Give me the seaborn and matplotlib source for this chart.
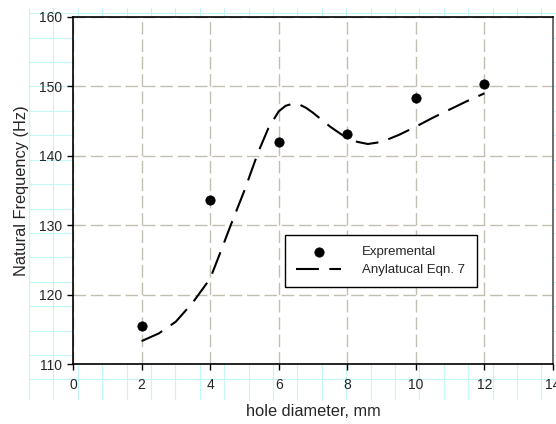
import numpy as np
import matplotlib
matplotlib.use("Agg")
import matplotlib.pyplot as plt
import seaborn as sns

# measured points
hole_d = [2, 4, 6, 8, 10, 12]
freq_exp = [115.5, 133.6, 142.0, 143.2, 148.4, 150.3]

# analytical curve
curve_d = [2.0, 2.5, 3.0, 3.5, 4.0, 4.3, 4.6, 4.8, 5.0, 5.4, 5.7, 6.0, 6.2, 6.4,
           6.6, 6.8, 7.0, 7.5, 8.0, 8.3, 8.6, 9.0, 9.5, 10.0, 10.5, 11.0, 11.5, 12.0]
curve_f = [113.3, 114.4, 116.1, 118.9, 122.3, 126.1, 130.0, 132.5, 135.0, 140.5, 144.0,
           146.4, 147.2, 147.5, 147.4, 146.9, 146.2, 144.2, 142.5, 142.0, 141.7, 142.0,
           143.0, 144.2, 145.5, 146.7, 147.9, 149.0]

x_ticks = [0, 2, 4, 6, 8, 10, 12, 14]
y_ticks = [110, 120, 130, 140, 150, 160]

sns.set_style("white")
plt.rcParams['font.family'] = ['Liberation Sans', 'DejaVu Sans']

fig = plt.figure(figsize=(5.56, 4.24), dpi=100)

# graph-paper backdrop behind the plot
bg = fig.add_axes([0, 0, 1, 1], zorder=0)
bg.set_xlim(0, 556)
bg.set_ylim(424, 0)
bg.axis("off")
paper = "#c4f6f6"
bg.vlines(29 + 24.4 * np.arange(22), 7, 400, color=paper, lw=0.8)
bg.hlines(13.3 + 24.4 * np.arange(16), 29, 556, color=paper, lw=0.8)

ax = fig.add_axes([73 / 556, 60 / 424, 480 / 556, 347 / 424], zorder=1)
ax.set_facecolor("white")

sns.scatterplot(x=hole_d, y=freq_exp, ax=ax, color="black", s=45, edgecolor="black",
                label="Expremental", zorder=4)
sns.lineplot(x=curve_d, y=curve_f, ax=ax, color="black", lw=1.5,
             linestyle=(0, (11, 5)), label="Anylatucal Eqn. 7", zorder=3)

ax.set_xlim(0, 14)
ax.set_ylim(110, 160)
ax.set_xticks(x_ticks)
ax.set_yticks(y_ticks)
ax.grid(True, color="#c2beb2", lw=1.0, linestyle=(0, (9, 3.5)))
ax.set_axisbelow(True)
ax.tick_params(direction="out", length=4, width=1, color="black", labelsize=10,
               bottom=True, left=True)
ax.tick_params(axis="x", pad=6)
ax.tick_params(axis="y", pad=4)
for side in ["left", "bottom", "top"]:
    ax.spines[side].set_color("black")
    ax.spines[side].set_linewidth(1.2)
ax.spines["right"].set_color("#555555")
ax.spines["right"].set_linewidth(1.2)

ax.set_xlabel("hole diameter, mm", fontsize=11.8, labelpad=9)
ax.set_ylabel("Natural Frequency (Hz)", fontsize=11.8, labelpad=7)

leg = ax.legend(loc="upper left", bbox_to_anchor=(0.442, 0.373), fontsize=9.5,
                frameon=True, fancybox=False, framealpha=1, edgecolor="black",
                handlelength=3.4, handletextpad=1.6, borderpad=0.85, labelspacing=0.45,
                borderaxespad=0)
leg.get_frame().set_linewidth(1.0)

fig.savefig("out.png", dpi=100)
